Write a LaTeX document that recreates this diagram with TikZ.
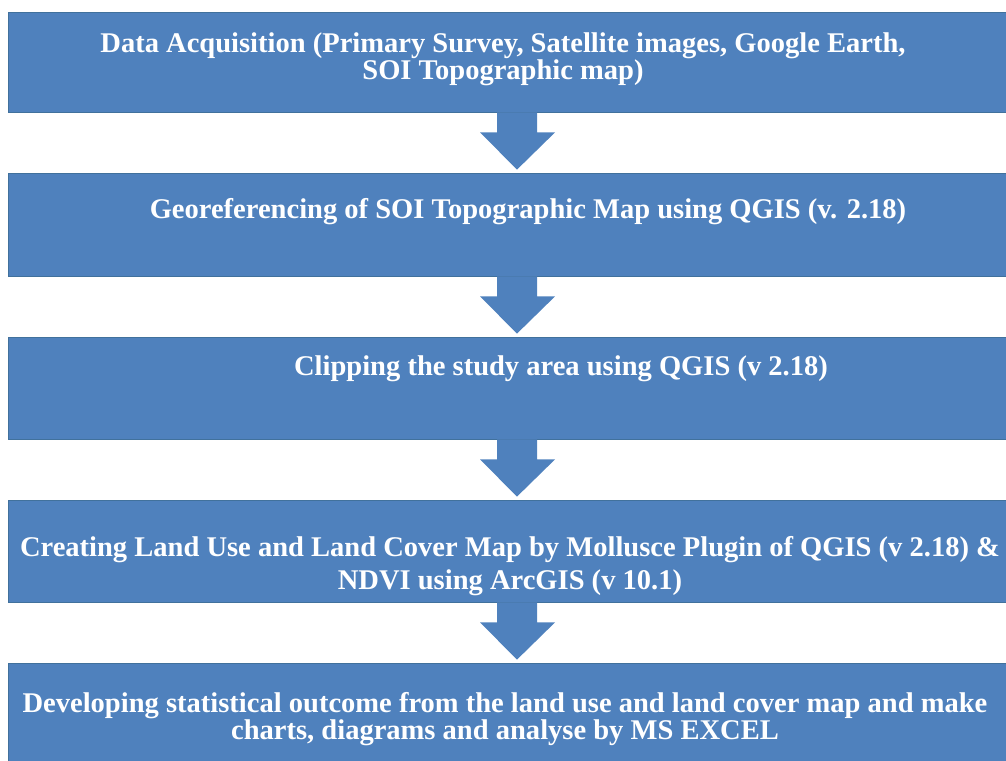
\documentclass[tikz,border=0pt]{standalone}
\usepackage{fontspec}
\setmainfont{Liberation Serif}
\usetikzlibrary{calc}
\definecolor{flowblue}{HTML}{4F81BD}
\definecolor{flowedge}{HTML}{41719C}
\tikzset{
  stepbox/.style={draw=flowedge, fill=flowblue, line width=0.6pt, rectangle,
    minimum width=763.5pt, inner sep=0pt},
  steptext/.style={text=white, font=\fontsize{21.4}{20.25}\selectfont\bfseries,
    align=center, inner sep=0pt},
  arrowfill/.style={fill=flowblue}
}
\begin{document}
\begin{tikzpicture}[x=0.75pt,y=-0.75pt]
  \useasboundingbox (0,0) rectangle (1006,760);
  \clip (0,0) rectangle (1006,760);

% boxes
  \node[stepbox, minimum height=75pt]    (b1) at (517,62)    {};
  \node[stepbox, minimum height=77.25pt] (b2) at (517,224.5) {};
  \node[stepbox, minimum height=76.5pt]  (b3) at (517,388)   {};
  \node[stepbox, minimum height=76.5pt]  (b4) at (517,551)   {};
  \node[stepbox, minimum height=97.5pt]  (b5) at (517,728)   {};

% texts
  \node[steptext]              (t1) at (503,59)  {Data Acquisition (Primary Survey, Satellite images, Google Earth,\\SOI Topographic map)};
  \node[steptext, anchor=base] (t2) at (528,218) {Georeferencing of SOI Topographic Map using QGIS (v. 2.18)};
  \node[steptext, anchor=base] (t3) at (561,375) {Clipping the study area using QGIS (v 2.18)};
  \node[steptext]              (t4) at (510,566) {Creating Land Use and Land Cover Map by Mollusce Plugin of QGIS (v 2.18) \&\\[5pt]NDVI using ArcGIS (v 10.1)};
  \node[steptext]              (t5) at (505,719) {Developing statistical outcome from the land use and land cover map and make\\charts, diagrams and analyse by MS EXCEL};

% block arrows between boxes
  \foreach \a/\b in {b1/b2,b2/b3,b3/b4,b4/b5}
    \fill[arrowfill] ($(\a.south)+(-20,0)$) -- ($(\a.south)+(-20,20)$) -- ($(\a.south)+(-37,20)$)
      -- ($(\b.north)+(0,-3)$) -- ($(\a.south)+(38,20)$) -- ($(\a.south)+(20,20)$) -- ($(\a.south)+(20,0)$) -- cycle;
\end{tikzpicture}
\end{document}
